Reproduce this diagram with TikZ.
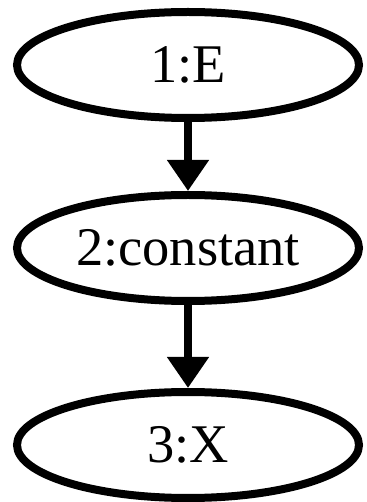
\documentclass[tikz,border=0pt]{standalone}
\usepackage{fontspec}
\setmainfont{Liberation Serif}
\usetikzlibrary{shapes.geometric, arrows.meta, positioning}

\tikzset{
  opnode/.style={ellipse, draw=black, line width=0.16cm, minimum width=6.84cm, minimum height=2.12cm, inner sep=0pt, font=\fontsize{31}{31}\selectfont},
  flow/.style={line width=0.16cm, -{Triangle[length=0.62cm, width=0.8cm]}}
}

\begin{document}
\begin{tikzpicture}
  \useasboundingbox (0,0) rectangle (7.34,10.04);

  \node[opnode] (e) at (3.76, 8.74) {1:E};
  \node[opnode] (const) at (3.76, 5.08) {2:constant};
  \node[opnode] (x) at (3.76, 1.14) {3:X};

  % edges
  \draw[flow] (e) -- (const);
  \draw[flow] (const) -- (x);
\end{tikzpicture}
\end{document}
